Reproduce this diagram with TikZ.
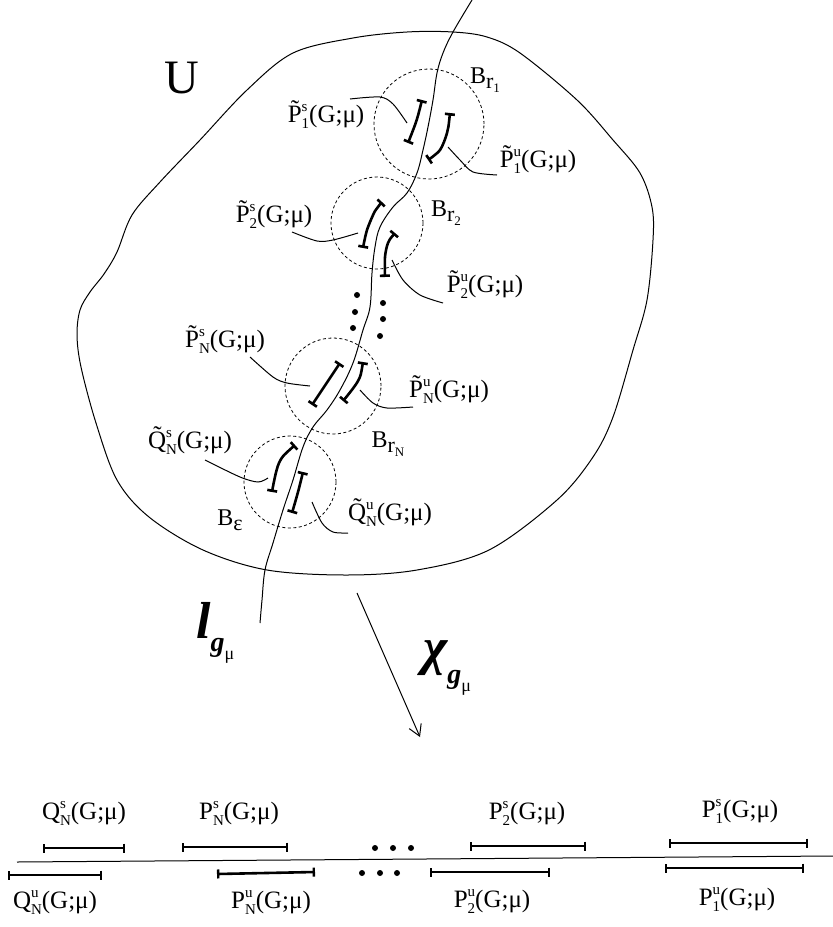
\documentclass[tikz,border=0pt]{standalone}
\usepackage{fontspec}
\setmainfont{Liberation Serif}
\usetikzlibrary{arrows.meta}
\newcommand{\sz}[1]{\fontsize{#1}{#1}\selectfont}
\newcommand{\gmu}{(G;μ)}
\newcommand{\lbl}[3]{#1\rlap{\raisebox{11pt}{\sz{15}#2}}\raisebox{-6pt}{\sz{15}#3}\gmu}
\newcommand{\bsub}[2]{B\raisebox{-5pt}{\sz{22}#1\raisebox{-4pt}{\sz{13}#2}}}
\tikzset{
  thinln/.style={line width=1pt},
  ball/.style={draw, circle, inner sep=0pt, line width=0.8pt, dash pattern=on 3pt off 2.5pt},
  seg/.style={line width=2.6pt, {Bar[width=10pt,line width=2.6pt]}-{Bar[width=10pt,line width=2.6pt]}},
  bseg/.style={line width=2.6pt, {Bar[width=9pt,line width=2.4pt]}-{Bar[width=9pt,line width=2.4pt]}},
  lab/.style={inner sep=0pt, font=\sz{25}},
  blab/.style={inner sep=0pt, font=\sz{24}},
  dotn/.style={circle, fill, inner sep=0pt, minimum size=6pt},
}
\begin{document}
\begin{tikzpicture}[x=1pt,y=-1pt]
\useasboundingbox (0,0) rectangle (833,927);
% region U
\draw[thinln] plot[smooth cycle, tension=0.55] coordinates {
 (407,32) (453,32) (487,37) (520,53) (577,100) (613,140) (640,173) (652,207)
 (653,240) (647,300) (633,350) (613,417) (593,457) (557,500) (489,550)
 (417,570) (346,575) (267,570) (203,550) (149,517) (117,480) (96,423)
 (81,367) (77,335) (80,310) (90,292) (104,274) (117,252) (132,215)
 (160,182) (200,140) (247,90) (293,53) (353,38)};
\node[inner sep=0pt, font=\sz{48}] (U) at (182,78) {U};
% curve l
\draw[thinln] plot[smooth, tension=0.6] coordinates {
 (472,0) (453,32) (443,53) (437,73) (433,100) (428,127) (423,150) (417,173)
 (407,193) (393,207) (380,227) (375,247) (372,273) (370,307) (363,330)
 (353,363) (340,390) (327,410) (313,427) (303,447) (293,480) (283,510)
 (273,543) (265,570) (262,600) (260,623)};
\coordinate (lend) at (260,623);
% balls
\node[ball, minimum size=110pt] (br1) at (429,124) {};
\node[ball, minimum size=92pt] (br2) at (377,223) {};
\node[ball, minimum size=96pt] (brN) at (333,386) {};
\node[ball, minimum size=92pt] (be) at (290,482) {};
\node[blab] (lbr1) at (485,80) {\bsub{r}{1}};
\node[blab] (lbr2) at (446,213) {\bsub{r}{2}};
\node[blab] (lbrN) at (388,444) {\bsub{r}{N}};
\node[blab] (lbe) at (230,520) {B\raisebox{-5pt}{\sz{22}ε}};
% segments
\draw[seg] plot[smooth] coordinates {(422,100) (416,122) (408,143)};
\draw[seg] plot[smooth] coordinates {(450,113) (447,133) (440,150) (428,160)};
\draw[seg] plot[smooth] coordinates {(382,202) (375,211) (367,230) (363,248)};
\draw[seg] plot[smooth] coordinates {(395,233) (388,243) (385,257) (385,277)};
\draw[seg] plot[smooth] coordinates {(340,363) (326,384) (312,405)};
\draw[seg] plot[smooth] coordinates {(363,362) (358,381) (343,401)};
\draw[seg] plot[smooth] coordinates {(295,445) (279,463) (272,492)};
\draw[seg] plot[smooth] coordinates {(303,472) (298,492) (292,513)};
% labels and leaders
\node[lab] (p1s) at (326,115) {\lbl{\~P}{s}{1}};
\node[lab] (p1u) at (538,160) {\lbl{\~P}{u}{1}};
\node[lab] (p2s) at (274,215) {\lbl{\~P}{s}{2}};
\node[lab] (p2u) at (485,285) {\lbl{\~P}{u}{2}};
\node[lab] (pNs) at (225,340) {\lbl{\~P}{s}{N}};
\node[lab] (pNu) at (449,390) {\lbl{\~P}{u}{N}};
\node[lab] (qNs) at (190,441) {\lbl{\~Q}{s}{N}};
\node[lab] (qNu) at (390,513) {\lbl{\~Q}{u}{N}};
\draw[thinln] plot[smooth] coordinates {(350,99) (380,97) (393,104) (407,123)};
\draw[thinln] plot[smooth] coordinates {(448,147) (460,160) (473,172) (497,175)};
\draw[thinln] plot[smooth] coordinates {(292,232) (317,241) (333,240) (358,233)};
\draw[thinln] plot[smooth] coordinates {(392,260) (403,280) (420,295) (443,303)};
\draw[thinln] plot[smooth] coordinates {(250,357) (273,377) (287,383) (310,386)};
\draw[thinln] plot[smooth] coordinates {(360,390) (373,403) (387,408) (413,407)};
\draw[thinln] plot[smooth] coordinates {(205,460) (240,477) (258,482) (268,478)};
\draw[thinln] plot[smooth] coordinates {(312,502) (322,523) (333,532) (348,533)};
% dots
\foreach \i/\p in {a/{(357,295)}, b/{(355,312)}, c/{(353,328)}, d/{(383,303)}, e/{(383,319)}, f/{(380,336)}}
  \node[dotn] (v\i) at \p {};
% l label
\node[inner sep=0pt, anchor=base west] (llab) at (196,638)
  {\sz{52}\bfseries\itshape l\raisebox{-13pt}{\sz{28}g\raisebox{-8pt}{\upshape\mdseries\sz{18}μ}}};
% map arrow
\coordinate (a0) at (357,593);
\coordinate (a1) at (420,737);
\draw[thinln, -{Straight Barb[length=11pt,width=13pt]}] (a0) -- (a1);
\node[inner sep=0pt, anchor=base west] (chi) at (423,664)
  {\sz{52}\bfseries\itshape χ\raisebox{-19pt}{\sz{28}g\raisebox{-8pt}{\upshape\mdseries\sz{18}μ}}};
% bottom axis
\coordinate (ax0) at (17,862);
\coordinate (ax1) at (833,856);
\draw[thinln] (ax0) -- (ax1);
\draw[bseg] (43,848) -- (125,848);
\draw[bseg] (182,847) -- (288,847);
\draw[bseg] (470,846) -- (586,846);
\draw[bseg] (669,843) -- (808,843);
\draw[bseg] (8,875) -- (102,875);
\draw[bseg] (217,874) -- (315,872);
\draw[bseg] (430,872) -- (550,872);
\draw[bseg] (665,868) -- (804,868);
\foreach \i/\p in {a/{(375,848)}, b/{(393,848)}, c/{(411,848)}, d/{(362,873)}, e/{(380,873)}, f/{(397,873)}}
  \node[dotn] (w\i) at \p {};
\node[lab] (bqNs) at (84,813) {\lbl{Q}{s}{N}};
\node[lab] (bpNs) at (239,813) {\lbl{P}{s}{N}};
\node[lab] (bp2s) at (527,813) {\lbl{P}{s}{2}};
\node[lab] (bp1s) at (740,811) {\lbl{P}{s}{1}};
\node[lab] (bqNu) at (55,903) {\lbl{Q}{u}{N}};
\node[lab] (bpNu) at (271,903) {\lbl{P}{u}{N}};
\node[lab] (bp2u) at (492,902) {\lbl{P}{u}{2}};
\node[lab] (bp1u) at (737,900) {\lbl{P}{u}{1}};
\end{tikzpicture}
\end{document}
